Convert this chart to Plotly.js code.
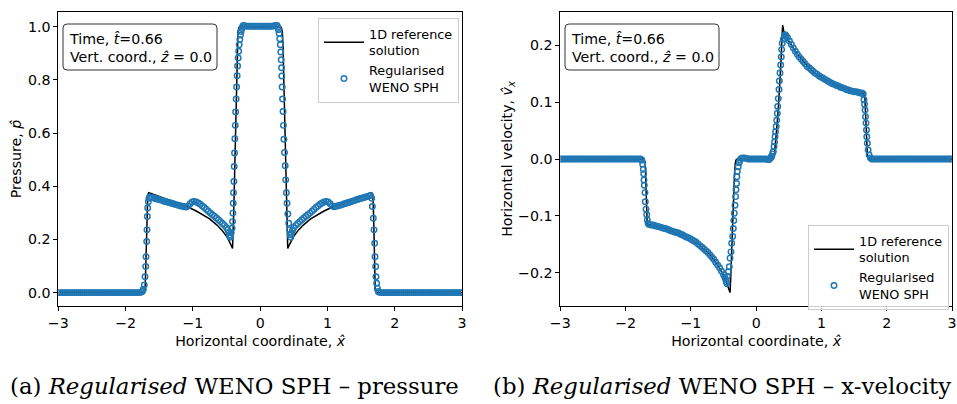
<!DOCTYPE html>
<html>
<head>
<meta charset="utf-8">
<script src="https://cdn.plot.ly/plotly-3.0.1.min.js"></script>
<style>html,body{margin:0;padding:0;background:#fff;}#chart{width:957px;height:404px;}</style>
</head>
<body>
<div id="chart"></div>
<script>
// ---------------- data ----------------
const xTicks = [-3, -2, -1, 0, 1, 2, 3];
const pressureTicks = [0, 0.2, 0.4, 0.6, 0.8, 1.0];
const velocityTicks = [-0.2, -0.1, 0, 0.1, 0.2];

const legendNames = ['1D reference<br>solution', 'Regularised<br>WENO SPH'];
const boxText = 'Time, <i>t̂</i>=0.66<br>Vert. coord., <i>ẑ</i> = 0.0';
const captions = ['(a) <i>Regularised</i> WENO SPH – pressure', '(b) <i>Regularised</i> WENO SPH – x-velocity'];

// 1D reference solution, pressure [x, p]
const pressureRef = [[-3,0],[-1.72,0],[-1.71,0.01],[-1.70,0.1],[-1.69,0.25],[-1.68,0.34],[-1.67,0.368],[-1.655,0.376],
 [-1.5,0.362],[-1.4,0.352],[-1.3,0.343],[-1.2,0.334],[-1.09,0.324],[-0.95,0.307],[-0.845,0.292],[-0.75,0.277],
 [-0.646,0.255],[-0.571,0.236],[-0.497,0.211],[-0.45,0.19],[-0.423,0.174],[-0.41,0.166],[-0.40,0.22],[-0.39,0.33],
 [-0.38,0.44],[-0.37,0.56],[-0.36,0.69],[-0.35,0.82],[-0.34,0.93],[-0.33,0.98],[-0.315,0.997],[-0.30,1.0],
 [0.30,1.0],[0.315,0.997],[0.33,0.98],[0.34,0.93],[0.35,0.82],[0.36,0.69],[0.37,0.56],[0.38,0.44],[0.39,0.33],
 [0.40,0.22],[0.41,0.166],[0.423,0.174],[0.45,0.19],[0.497,0.211],[0.571,0.236],[0.646,0.255],[0.75,0.277],
 [0.845,0.292],[0.95,0.307],[1.09,0.324],[1.2,0.334],[1.3,0.343],[1.4,0.352],[1.5,0.362],[1.655,0.376],
 [1.67,0.368],[1.68,0.34],[1.69,0.25],[1.70,0.1],[1.71,0.01],[1.72,0],[3,0]];

// Regularised WENO SPH particles, pressure [x, p]
const pressureSPH = [
 [-3,0],[-2.97,0],[-2.94,0],[-2.91,0],[-2.88,0],[-2.85,0],[-2.82,0],[-2.79,0],[-2.76,0],[-2.73,0],[-2.7,0],
 [-2.67,0],[-2.64,0],[-2.61,0],[-2.58,0],[-2.55,0],[-2.52,0],[-2.49,0],[-2.46,0],[-2.43,0],[-2.4,0],[-2.37,0],
 [-2.34,0],[-2.31,0],[-2.28,0],[-2.25,0],[-2.22,0],[-2.19,0],[-2.16,0],[-2.13,0],[-2.1,0],[-2.07,0],[-2.04,0],
 [-2.01,0],[-1.98,0],[-1.95,0],[-1.92,0],[-1.89,0],[-1.86,0],[-1.83,0],[-1.8,0],[-1.77,0.001],[-1.75,0.004],
 [-1.736,0.013],[-1.722,0.029],[-1.711,0.06],[-1.701,0.098],[-1.696,0.135],[-1.686,0.192],[-1.682,0.236],
 [-1.677,0.286],[-1.671,0.318],[-1.662,0.342],[-1.652,0.355],
 [-1.64,0.36],[-1.61,0.358],[-1.58,0.356],[-1.55,0.353],[-1.52,0.351],[-1.49,0.349],[-1.46,0.347],[-1.43,0.344],
 [-1.4,0.342],[-1.37,0.34],[-1.34,0.338],[-1.31,0.335],[-1.28,0.333],[-1.25,0.331],[-1.22,0.329],[-1.19,0.327],
 [-1.16,0.325],[-1.13,0.323],[-1.1,0.322],[-1.07,0.326],[-1.04,0.334],[-1.01,0.341],[-0.98,0.343],[-0.95,0.341],
 [-0.92,0.337],[-0.89,0.332],[-0.86,0.326],[-0.83,0.32],[-0.8,0.313],[-0.77,0.306],[-0.74,0.299],[-0.71,0.293],
 [-0.68,0.287],[-0.65,0.281],[-0.62,0.274],[-0.59,0.267],[-0.56,0.26],[-0.53,0.253],[-0.5,0.244],[-0.48,0.236],
 [-0.465,0.226],[-0.455,0.217],[-0.447,0.208],[-0.44,0.212],
 [-0.43,0.225],[-0.418,0.242],[-0.41,0.267],[-0.405,0.299],[-0.4,0.336],[-0.396,0.376],[-0.39,0.418],[-0.386,0.474],
 [-0.381,0.525],[-0.376,0.579],[-0.37,0.629],[-0.364,0.679],[-0.357,0.728],[-0.35,0.773],[-0.342,0.816],[-0.335,0.852],
 [-0.327,0.882],[-0.319,0.908],[-0.311,0.932],[-0.302,0.952],[-0.293,0.969],[-0.283,0.982],[-0.272,0.993],[-0.262,1.0],
 [-0.25,1.005],
 [-0.22,1.003],[-0.19,1.002],[-0.16,1.002],[-0.13,1.002],[-0.1,1.002],[-0.07,1.002],[-0.04,1.002],[-0.01,1.002],
 [0.02,1.002],[0.05,1.002],[0.08,1.002],[0.11,1.002],[0.14,1.002],[0.17,1.002],[0.2,1.003],[0.23,1.005],[0.25,1.005],
 [0.262,0.998],[0.272,0.989],[0.282,0.974],[0.292,0.955],[0.3,0.932],[0.307,0.905],[0.313,0.876],[0.318,0.846],
 [0.322,0.815],[0.327,0.773],[0.333,0.728],[0.34,0.681],[0.346,0.629],[0.353,0.577],[0.362,0.527],[0.372,0.477],
 [0.38,0.424],[0.39,0.376],[0.4,0.336],[0.412,0.296],[0.425,0.261],[0.438,0.236],[0.447,0.218],[0.455,0.208],
 [0.465,0.222],[0.48,0.234],[0.5,0.244],[0.53,0.253],[0.56,0.26],[0.59,0.267],[0.62,0.274],[0.65,0.281],[0.68,0.287],
 [0.71,0.293],[0.74,0.299],[0.77,0.306],[0.8,0.313],[0.83,0.32],[0.86,0.326],[0.89,0.332],[0.92,0.337],[0.95,0.341],
 [0.98,0.343],[1.01,0.341],[1.04,0.334],[1.07,0.326],[1.1,0.323],[1.13,0.325],[1.16,0.327],[1.19,0.329],[1.22,0.331],
 [1.25,0.334],[1.28,0.336],[1.31,0.339],[1.34,0.341],[1.37,0.344],[1.4,0.346],[1.43,0.349],[1.46,0.351],[1.49,0.354],
 [1.52,0.356],[1.55,0.358],[1.58,0.361],[1.61,0.363],[1.64,0.365],
 [1.658,0.355],[1.668,0.324],[1.682,0.28],[1.692,0.236],[1.702,0.186],[1.707,0.135],[1.717,0.098],[1.722,0.06],
 [1.732,0.035],[1.741,0.017],[1.756,0.004],
 [1.77,0.001],[1.8,0],[1.83,0],[1.86,0],[1.89,0],[1.92,0],[1.95,0],[1.98,0],[2.01,0],[2.04,0],[2.07,0],[2.1,0],
 [2.13,0],[2.16,0],[2.19,0],[2.22,0],[2.25,0],[2.28,0],[2.31,0],[2.34,0],[2.37,0],[2.4,0],[2.43,0],[2.46,0],[2.49,0],
 [2.52,0],[2.55,0],[2.58,0],[2.61,0],[2.64,0],[2.67,0],[2.7,0],[2.73,0],[2.76,0],[2.79,0],[2.82,0],[2.85,0],[2.88,0],
 [2.91,0],[2.94,0],[2.97,0],[3,0]];

// 1D reference solution, x-velocity [x, vx]
const velocityRef = [[-3,0],[-1.72,0],[-1.70,-0.006],[-1.69,-0.04],[-1.68,-0.09],[-1.67,-0.11],[-1.655,-0.115],
 [-1.6,-0.116],[-1.5,-0.119],[-1.4,-0.122],[-1.3,-0.126],[-1.2,-0.130],[-1.1,-0.135],[-1.0,-0.141],[-0.9,-0.148],
 [-0.8,-0.158],[-0.7,-0.169],[-0.6,-0.184],[-0.55,-0.193],[-0.5,-0.204],[-0.46,-0.215],[-0.43,-0.225],[-0.41,-0.231],
 [-0.40,-0.2345],[-0.39,-0.21],[-0.38,-0.175],[-0.37,-0.14],[-0.36,-0.108],[-0.35,-0.077],[-0.34,-0.047],[-0.33,-0.022],
 [-0.32,-0.008],[-0.31,-0.002],[-0.29,0],[0.25,0],[0.28,0.008],[0.30,0.03],[0.32,0.06],[0.34,0.09],[0.36,0.125],
 [0.38,0.17],[0.395,0.21],[0.406,0.235],[0.42,0.226],[0.445,0.217],[0.5,0.207],[0.6,0.189],[0.7,0.174],[0.8,0.161],
 [0.9,0.151],[1.0,0.143],[1.1,0.137],[1.2,0.131],[1.3,0.126],[1.4,0.122],[1.5,0.118],[1.6,0.116],[1.65,0.115],
 [1.665,0.108],[1.675,0.085],[1.685,0.05],[1.695,0.02],[1.705,0.005],[1.72,0],[3,0]];

// Regularised WENO SPH particles, x-velocity [x, vx]
const velocitySPH = [
 [-3,0],[-2.97,0],[-2.94,0],[-2.91,0],[-2.88,0],[-2.85,0],[-2.82,0],[-2.79,0],[-2.76,0],[-2.73,0],[-2.7,0],
 [-2.67,0],[-2.64,0],[-2.61,0],[-2.58,0],[-2.55,0],[-2.52,0],[-2.49,0],[-2.46,0],[-2.43,0],[-2.4,0],[-2.37,0],
 [-2.34,0],[-2.31,0],[-2.28,0],[-2.25,0],[-2.22,0],[-2.19,0],[-2.16,0],[-2.13,0],[-2.1,0],[-2.07,0],[-2.04,0],
 [-2.01,0],[-1.98,0],[-1.95,0],[-1.92,0],[-1.89,0],[-1.86,0],[-1.83,0],[-1.8,0],[-1.77,0],[-1.75,-0.002],
 [-1.738,-0.009],[-1.728,-0.018],[-1.723,-0.026],[-1.718,-0.037],[-1.713,-0.046],[-1.703,-0.059],[-1.698,-0.075],
 [-1.687,-0.088],[-1.676,-0.098],[-1.667,-0.107],[-1.655,-0.113],
 [-1.64,-0.115],[-1.61,-0.116],[-1.58,-0.116],[-1.55,-0.117],[-1.52,-0.118],[-1.49,-0.119],[-1.46,-0.12],[-1.43,-0.121],
 [-1.4,-0.122],[-1.37,-0.123],[-1.34,-0.124],[-1.31,-0.126],[-1.28,-0.127],[-1.25,-0.128],[-1.22,-0.129],[-1.19,-0.13],
 [-1.16,-0.132],[-1.13,-0.133],[-1.1,-0.135],[-1.07,-0.137],[-1.04,-0.138],[-1.01,-0.14],[-0.98,-0.142],[-0.95,-0.144],
 [-0.92,-0.146],[-0.89,-0.149],[-0.86,-0.152],[-0.83,-0.155],[-0.8,-0.158],[-0.77,-0.161],[-0.74,-0.164],[-0.71,-0.168],
 [-0.68,-0.172],[-0.65,-0.176],[-0.62,-0.181],[-0.59,-0.186],[-0.56,-0.191],[-0.53,-0.197],[-0.5,-0.203],[-0.48,-0.208],
 [-0.465,-0.212],[-0.455,-0.216],[-0.447,-0.219],
 [-0.441,-0.206],[-0.425,-0.198],[-0.411,-0.189],[-0.4,-0.174],[-0.385,-0.163],[-0.375,-0.148],[-0.359,-0.136],
 [-0.35,-0.122],[-0.342,-0.108],[-0.335,-0.095],[-0.324,-0.081],[-0.315,-0.066],[-0.309,-0.054],[-0.3,-0.043],
 [-0.295,-0.031],[-0.288,-0.022],[-0.275,-0.0135],[-0.26,-0.0065],[-0.245,-0.002],[-0.23,0.001],
 [-0.21,0.002],[-0.18,0.002],[-0.15,0.001],[-0.12,0],[-0.09,0],[-0.06,0],[-0.03,0],[0,0],[0.03,0],[0.06,0],
 [0.09,0],[0.12,0],[0.15,0],[0.18,-0.001],[0.2,-0.001],[0.215,0.001],
 [0.228,0.003],[0.238,0.005],[0.25,0.009],[0.263,0.013],[0.274,0.022],[0.282,0.03],[0.289,0.039],[0.297,0.048],
 [0.307,0.057],[0.315,0.068],[0.324,0.08],[0.33,0.092],[0.339,0.106],[0.35,0.122],[0.355,0.137],[0.365,0.151],
 [0.376,0.165],[0.385,0.179],[0.391,0.192],[0.4,0.203],[0.416,0.21],[0.431,0.216],[0.445,0.218],[0.46,0.216],
 [0.48,0.213],[0.51,0.207],[0.54,0.201],[0.57,0.195],[0.6,0.189],[0.63,0.184],[0.66,0.179],[0.69,0.175],[0.72,0.171],
 [0.75,0.167],[0.78,0.163],[0.81,0.16],[0.84,0.157],[0.87,0.154],[0.9,0.151],[0.93,0.149],[0.96,0.146],[0.99,0.144],
 [1.02,0.142],[1.05,0.14],[1.08,0.138],[1.11,0.136],[1.14,0.134],[1.17,0.132],[1.2,0.131],[1.23,0.129],[1.26,0.128],
 [1.29,0.126],[1.32,0.125],[1.35,0.124],[1.38,0.122],[1.41,0.121],[1.44,0.12],[1.47,0.119],[1.5,0.118],[1.53,0.118],
 [1.56,0.117],[1.59,0.116],[1.62,0.116],[1.64,0.114],
 [1.652,0.104],[1.66,0.096],[1.668,0.086],[1.675,0.074],[1.683,0.063],[1.69,0.051],[1.695,0.039],[1.703,0.0275],
 [1.715,0.0158],[1.73,0.007],[1.75,0.002],
 [1.77,0],[1.8,0],[1.83,0],[1.86,0],[1.89,0],[1.92,0],[1.95,0],[1.98,0],[2.01,0],[2.04,0],[2.07,0],[2.1,0],
 [2.13,0],[2.16,0],[2.19,0],[2.22,0],[2.25,0],[2.28,0],[2.31,0],[2.34,0],[2.37,0],[2.4,0],[2.43,0],[2.46,0],[2.49,0],
 [2.52,0],[2.55,0],[2.58,0],[2.61,0],[2.64,0],[2.67,0],[2.7,0],[2.73,0],[2.76,0],[2.79,0],[2.82,0],[2.85,0],[2.88,0],
 [2.91,0],[2.94,0],[2.97,0],[3,0]];

// ---------------- figure ----------------
const W = 957, H = 404;
const px = p => p / W;
const py = p => 1 - p / H;
const blue = '#1f77b4';
const col = (arr, i) => arr.map(r => r[i]);

function lineTrace(d, xa, ya, leg) {
  return {x: col(d,0), y: col(d,1), xaxis: xa, yaxis: ya, type: 'scatter', mode: 'lines',
    line: {color: 'black', width: 1.5}, name: legendNames[0], legend: leg, showlegend: true};
}
function sphTrace(d, xa, ya, leg) {
  return {x: col(d,0), y: col(d,1), xaxis: xa, yaxis: ya, type: 'scatter', mode: 'markers',
    marker: {symbol: 'circle-open', size: 5.5, color: blue, line: {width: 1.45, color: blue}},
    name: legendNames[1], legend: leg, showlegend: true};
}

const data = [
  lineTrace(pressureRef, 'x', 'y', 'legend'),
  sphTrace(pressureSPH, 'x', 'y', 'legend'),
  lineTrace(velocityRef, 'x2', 'y2', 'legend2'),
  sphTrace(velocitySPH, 'x2', 'y2', 'legend2')
];

const font = {family: 'DejaVu Sans', size: 14.2, color: 'black'};
const legFont = {family: 'DejaVu Sans', size: 12.8, color: 'black'};
const axisCommon = {
  showline: true, mirror: true, linecolor: 'black', linewidth: 1,
  ticks: 'outside', ticklen: 4, tickwidth: 1, tickcolor: 'black',
  showgrid: false, zeroline: false, tickfont: font, automargin: false
};
const yDomain = [1 - 306 / H, 1 - 12 / H];

function roundBox(x0, y0, x1, y1, r) {
  const X = v => px(v), Y = v => py(v);
  return `M ${X(x0 + r)},${Y(y0)} L ${X(x1 - r)},${Y(y0)} Q ${X(x1)},${Y(y0)} ${X(x1)},${Y(y0 + r)} ` +
    `L ${X(x1)},${Y(y1 - r)} Q ${X(x1)},${Y(y1)} ${X(x1 - r)},${Y(y1)} L ${X(x0 + r)},${Y(y1)} ` +
    `Q ${X(x0)},${Y(y1)} ${X(x0)},${Y(y1 - r)} L ${X(x0)},${Y(y0 + r)} Q ${X(x0)},${Y(y0)} ${X(x0 + r)},${Y(y0)} Z`;
}

const legendCommon = {
  font: legFont, bgcolor: 'rgba(255,255,255,0.8)', bordercolor: '#cccccc', borderwidth: 1,
  xanchor: 'left', yanchor: 'top', itemwidth: 40
};

const layout = {
  width: W, height: H,
  margin: {l: 0, r: 0, t: 0, b: 0},
  paper_bgcolor: 'white', plot_bgcolor: 'white',
  font: font,
  xaxis: Object.assign({}, axisCommon, {domain: [58.3 / W, 462 / W], anchor: 'y', range: [-3, 3],
    tickvals: xTicks, title: {text: 'Horizontal coordinate, <i>x̂</i>', font: font, standoff: 6}}),
  yaxis: Object.assign({}, axisCommon, {domain: yDomain, anchor: 'x', range: [-0.0503, 1.0553],
    tickvals: pressureTicks, tickformat: '.1f', title: {text: 'Pressure, <i>p̂</i>', font: font, standoff: 2}}),
  xaxis2: Object.assign({}, axisCommon, {domain: [560.3 / W, 952 / W], anchor: 'y2', range: [-3, 3],
    tickvals: xTicks, title: {text: 'Horizontal coordinate, <i>x̂</i>', font: font, standoff: 6}}),
  yaxis2: Object.assign({}, axisCommon, {domain: yDomain, anchor: 'x2', range: [-0.258, 0.258],
    tickvals: velocityTicks, tickformat: '.1f',
    title: {text: 'Horizontal velocity, <i>v̂<sub>x</sub></i>', font: font, standoff: 2}}),
  legend: Object.assign({}, legendCommon, {x: px(318), y: py(18)}),
  legend2: Object.assign({}, legendCommon, {x: px(808), y: py(225)}),
  shapes: [
    {type: 'path', xref: 'paper', yref: 'paper', path: roundBox(63, 24, 217, 70, 4),
      line: {color: '#333333', width: 1}, fillcolor: 'rgba(255,255,255,0.9)'},
    {type: 'path', xref: 'paper', yref: 'paper', path: roundBox(565, 24, 719, 70, 4),
      line: {color: '#333333', width: 1}, fillcolor: 'rgba(255,255,255,0.9)'}
  ],
  annotations: [
    {xref: 'paper', yref: 'paper', x: px(67), y: py(47.5), xanchor: 'left', yanchor: 'middle', align: 'left',
      showarrow: false, text: boxText, font: font},
    {xref: 'paper', yref: 'paper', x: px(569), y: py(47.5), xanchor: 'left', yanchor: 'middle', align: 'left',
      showarrow: false, text: boxText, font: font},
    {xref: 'paper', yref: 'paper', x: px(8), y: py(386), xanchor: 'left', yanchor: 'middle', showarrow: false,
      text: captions[0], font: {family: 'DejaVu Serif', size: 22.8, color: 'black'}},
    {xref: 'paper', yref: 'paper', x: px(491), y: py(386), xanchor: 'left', yanchor: 'middle', showarrow: false,
      text: captions[1], font: {family: 'DejaVu Serif', size: 22.8, color: 'black'}}
  ]
};

Plotly.newPlot('chart', data, layout, {staticPlot: true, displayModeBar: false});
</script>
</body>
</html>
